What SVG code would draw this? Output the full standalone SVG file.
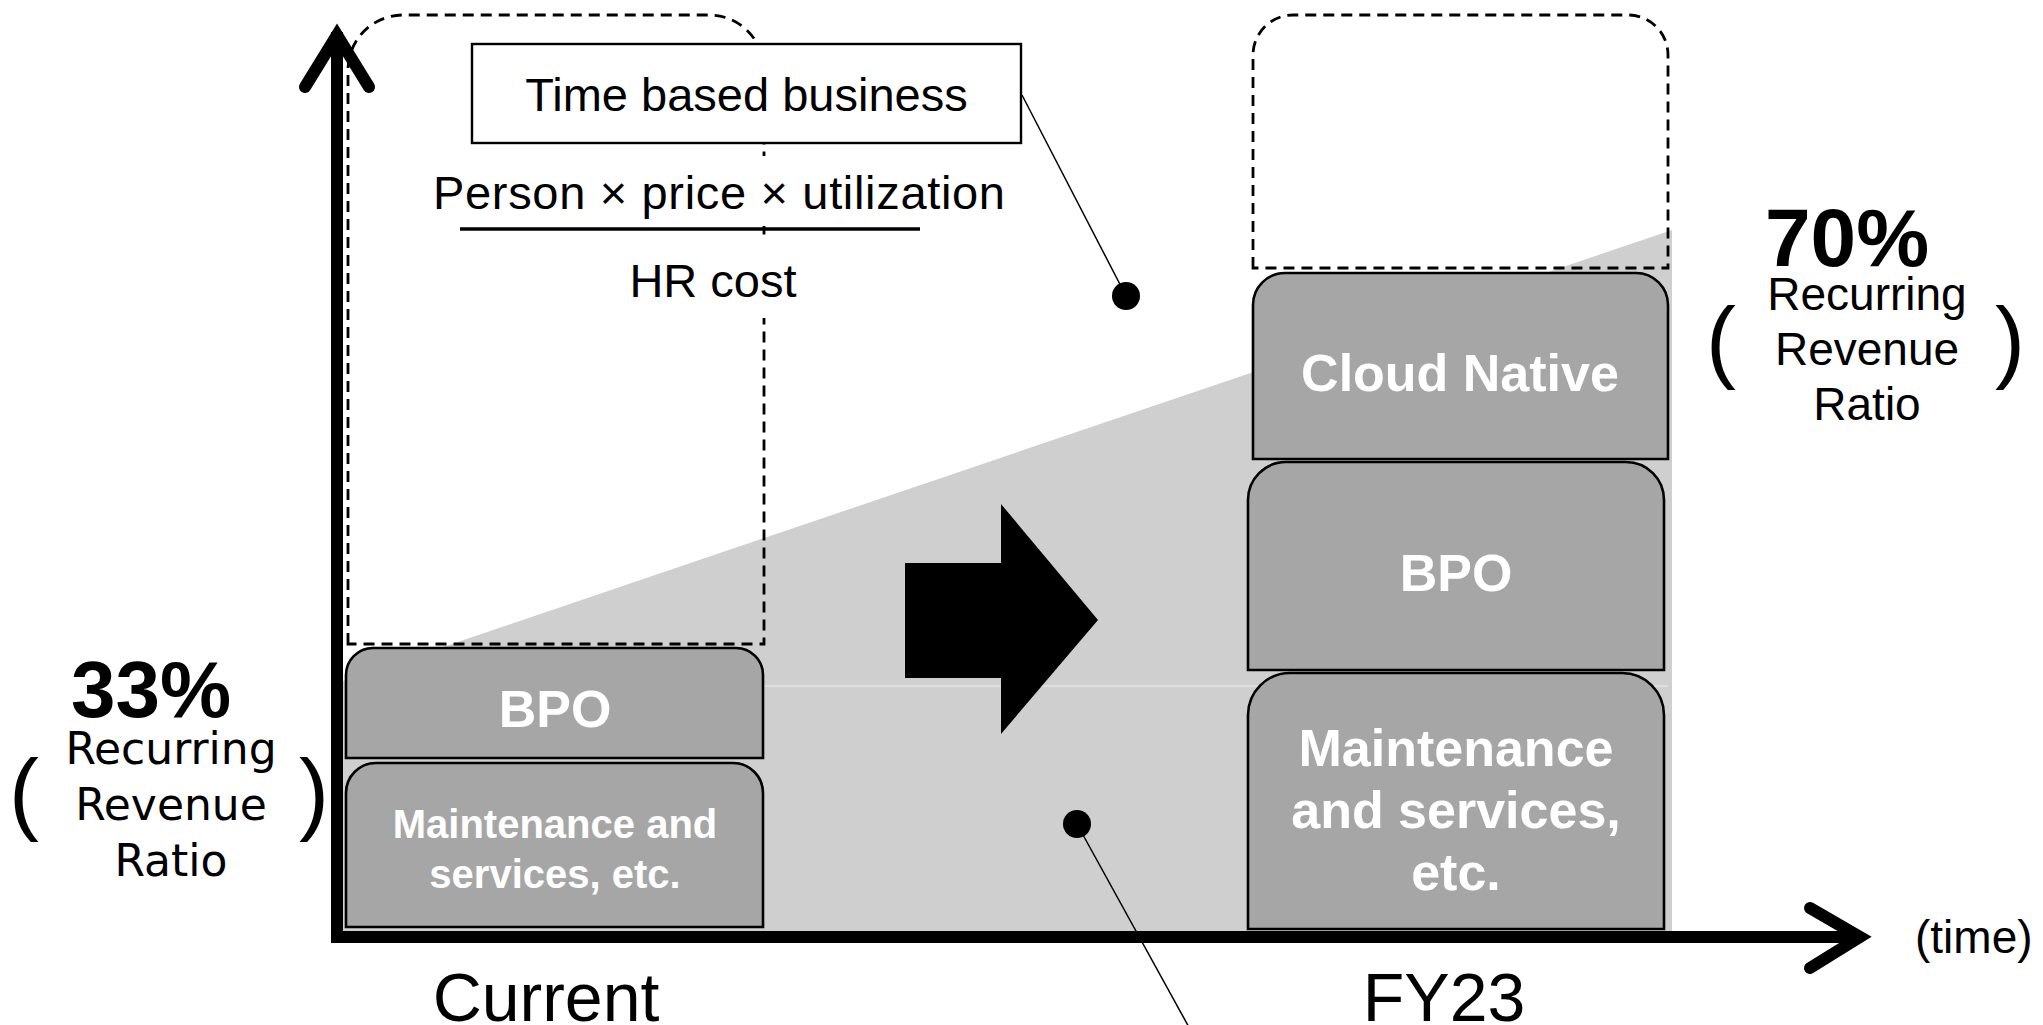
<svg xmlns="http://www.w3.org/2000/svg" width="2043" height="1025" viewBox="0 0 2043 1025">
<style>
.t{font-family:"Liberation Sans",Arial,sans-serif;fill:#000}
.tw{font-family:"Liberation Sans",Arial,sans-serif;fill:#fff;font-weight:bold;text-anchor:middle}
.lbl{font-family:"DejaVu Sans","Liberation Sans",sans-serif;fill:#000;text-anchor:middle;font-size:44px}
.box{fill:#a6a6a6;stroke:#000;stroke-width:2.6}
.dash{fill:none;stroke:#000;stroke-width:2.8;stroke-dasharray:11 7}
.axis{fill:none;stroke:#000;stroke-width:12;stroke-linecap:round;stroke-linejoin:miter}
.lead{fill:none;stroke:#000;stroke-width:1.5}
</style>
<rect width="2043" height="1025" fill="#fff"/>
<g id="area">
<polygon points="340,682 1672,230 1672,937 340,937" fill="#d0cfd0"/>
<line x1="764" y1="686" x2="1668" y2="686" stroke="#e4e4e4" stroke-width="1.5"/>
</g>
<g id="current-frame">
<path class="dash" d="M348,644 V70 A55,55 0 0 1 403,15 H709 A55,55 0 0 1 764,70 V644 Z"/>
</g>
<g id="fy23-frame">
<path class="dash" d="M1253,268 V55 A40,40 0 0 1 1293,15 H1628 A40,40 0 0 1 1668,55 V268 Z"/>
</g>
<g id="axes">
<line x1="337" y1="32" x2="337" y2="943" stroke="#000" stroke-width="12"/>
<line x1="331" y1="937" x2="1862" y2="937" stroke="#000" stroke-width="12"/>
<polyline class="axis" points="305,87 337,35 369,87"/>
<polyline class="axis" points="1810,908 1860,937 1810,968"/>
</g>
<g id="time-based-business">
<rect x="472" y="44" width="549" height="99" fill="#fff" stroke="#000" stroke-width="2.4"/>
<text class="t" x="746.5" y="111" font-size="47" text-anchor="middle">Time based business</text>
</g>
<g id="formula">
<rect x="430" y="156" width="580" height="70" fill="#fff"/>
<rect x="600" y="237" width="230" height="81" fill="#fff"/>
<text class="t" x="719" y="209" font-size="47" text-anchor="middle" textLength="572">Person × price × utilization</text>
<line x1="460" y1="229" x2="920" y2="229" stroke="#000" stroke-width="3.5"/>
<text class="t" x="713" y="297" font-size="47" text-anchor="middle">HR cost</text>
</g>
<g id="current-bpo">
<path class="box" d="M346,758 V675 A27,27 0 0 1 373,648 H736 A27,27 0 0 1 763,675 V758 Z"/>
<text class="tw" x="555" y="727" font-size="52">BPO</text>
</g>
<g id="current-maintenance">
<path class="box" d="M346,927 V793 A30,30 0 0 1 376,763 H733 A30,30 0 0 1 763,793 V927 Z"/>
<text class="tw" x="555" y="838" font-size="40">Maintenance and</text>
<text class="tw" x="555" y="888" font-size="40">services, etc.</text>
</g>
<g id="fy23-cloud-native">
<path class="box" d="M1253,459 V305 A32,32 0 0 1 1285,273 H1636 A32,32 0 0 1 1668,305 V459 Z"/>
<text class="tw" x="1460" y="391" font-size="52">Cloud Native</text>
</g>
<g id="fy23-bpo">
<path class="box" d="M1248,670 V500 A38,38 0 0 1 1286,462 H1626 A38,38 0 0 1 1664,500 V670 Z"/>
<text class="tw" x="1456" y="591" font-size="52">BPO</text>
</g>
<g id="fy23-maintenance">
<path class="box" d="M1248,929 V715 A42,42 0 0 1 1290,673 H1622 A42,42 0 0 1 1664,715 V929 Z"/>
<text class="tw" x="1456" y="766" font-size="52">Maintenance</text>
<text class="tw" x="1456" y="828" font-size="52">and services,</text>
<text class="tw" x="1456" y="890" font-size="52">etc.</text>
</g>
<g id="transition-arrow">
<polygon points="905,563 1001,563 1001,504 1098,620 1001,734 1001,678 905,678" fill="#000"/>
</g>
<g id="connectors">
<line class="lead" x1="1022" y1="95" x2="1126" y2="296"/>
<circle cx="1126" cy="296" r="14" fill="#000"/>
<line class="lead" x1="1077" y1="824" x2="1196" y2="1040"/>
<circle cx="1077" cy="824" r="14" fill="#000"/>
</g>
<g id="ratio-current">
<text class="t" x="151" y="717" font-size="80" font-weight="bold" text-anchor="middle">33%</text>
<text class="lbl" x="171" y="764">Recurring</text>
<text class="lbl" x="171" y="820">Revenue</text>
<text class="lbl" x="171" y="876">Ratio</text>
<text class="t" x="9" y="823" font-size="90">(</text>
<text class="t" x="299" y="823" font-size="90">)</text>
</g>
<g id="ratio-fy23">
<text class="t" x="1847" y="266" font-size="82" font-weight="bold" text-anchor="middle">70%</text>
<text class="t" x="1867" y="310" font-size="46" text-anchor="middle">Recurring</text>
<text class="t" x="1867" y="365" font-size="46" text-anchor="middle">Revenue</text>
<text class="t" x="1867" y="420" font-size="46" text-anchor="middle">Ratio</text>
<text class="t" x="1706" y="371" font-size="90">(</text>
<text class="t" x="1995" y="371" font-size="90">)</text>
</g>
<g id="axis-labels">
<text class="t" x="546" y="1021" font-size="68" text-anchor="middle">Current</text>
<text class="t" x="1444" y="1021" font-size="68" text-anchor="middle">FY23</text>
<text class="t" x="1915" y="953" font-size="46">(time)</text>
</g>
</svg>
